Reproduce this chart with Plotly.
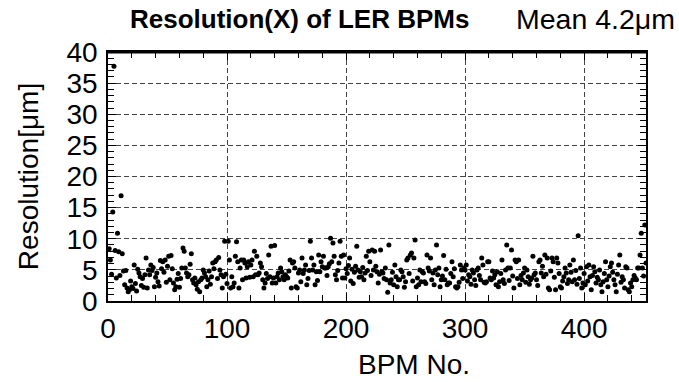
import plotly.graph_objects as go

# Resolution (um) of each LER BPM
res_1_100 = [
    8.4, 6.6, 4.3, 14.3, 37.7, 8.1, 3.7, 10.9, 7.9, 4.1,
    16.9, 7.6, 4.8, 2.6, 4.9, 2.1, 1.5, 1.8, 3.2, 2.3,
    2.0, 5.8, 2.8, 1.6, 5.1, 4.5, 3.9, 2.5, 3.6, 2.2,
    4.2, 6.9, 2.1, 5.0, 4.2, 5.8, 4.9, 5.4, 2.3, 3.8,
    4.5, 3.1, 2.4, 6.5, 5.2, 6.3, 4.6, 6.6, 3.0, 5.6,
    7.2, 3.4, 7.3, 5.2, 2.9, 1.8, 2.3, 3.5, 4.4, 2.2,
    3.6, 5.3, 8.5, 8.0, 5.3, 4.5, 3.9, 4.2, 5.9, 7.6,
    3.4, 2.9, 3.7, 2.6, 1.9, 3.1, 1.5, 3.4, 3.7, 5.0,
    4.5, 3.9, 2.3, 3.4, 4.8, 2.7, 3.9, 6.1, 5.2, 6.3,
    6.6, 3.6, 7.0, 5.0, 4.2, 2.1, 3.9, 9.6, 4.3, 2.8,
]
res_101_200 = [
    9.6, 6.6, 2.1, 3.9, 2.3, 2.9, 7.2, 9.5, 6.3, 2.1,
    5.3, 6.6, 3.4, 6.6, 6.1, 3.7, 5.5, 6.3, 3.8, 5.8,
    6.6, 3.9, 8.0, 4.2, 7.2, 4.2, 4.5, 6.1, 5.5, 3.4,
    2.1, 2.9, 4.4, 3.6, 7.4, 3.9, 8.8, 2.9, 3.7, 8.9,
    2.9, 3.9, 4.5, 3.4, 5.3, 4.7, 3.9, 3.4, 4.2, 3.9,
    3.7, 4.8, 6.6, 2.1, 6.1, 6.3, 5.3, 2.3, 2.1, 4.5,
    5.0, 3.1, 6.9, 4.4, 5.0, 5.8, 2.6, 3.6, 4.9, 9.6,
    6.9, 5.0, 5.8, 2.6, 4.7, 3.3, 7.4, 4.7, 6.3, 5.5,
    7.2, 5.3, 5.3, 4.1, 5.5, 6.0, 10.1, 6.3, 9.3, 7.2,
    4.2, 3.4, 4.9, 6.1, 9.6, 7.2, 3.7, 7.4, 3.7, 5.2,
]
res_201_300 = [
    4.4, 5.7, 6.9, 3.2, 5.1, 2.8, 4.6, 5.6, 8.8, 5.0,
    3.8, 4.7, 3.9, 5.4, 3.4, 4.5, 7.2, 4.9, 8.0, 6.3,
    4.1, 8.2, 5.0, 8.0, 5.6, 4.7, 2.9, 4.3, 8.2, 4.7,
    4.5, 3.6, 5.3, 3.4, 1.4, 9.0, 2.9, 3.4, 4.6, 2.6,
    5.8, 3.9, 2.3, 3.4, 3.4, 5.0, 4.7, 3.9, 2.2, 3.1,
    6.6, 6.9, 4.4, 7.4, 7.7, 3.2, 6.9, 9.8, 2.3, 3.7,
    2.6, 5.0, 3.1, 4.7, 4.5, 3.1, 2.8, 7.4, 5.3, 4.8,
    6.9, 3.4, 4.5, 2.6, 5.0, 9.0, 4.2, 5.3, 2.3, 3.4,
    4.0, 7.3, 3.4, 5.1, 2.6, 2.9, 2.9, 4.4, 6.3, 3.9,
    5.2, 2.3, 2.1, 2.3, 3.0, 5.8, 5.0, 3.6, 5.3, 5.0,
]
res_301_400 = [
    5.8, 3.2, 4.2, 3.9, 2.7, 5.0, 4.5, 3.4, 2.5, 5.0,
    5.3, 4.1, 3.4, 6.9, 5.8, 3.0, 2.9, 3.1, 6.3, 6.3,
    3.7, 3.4, 4.8, 3.7, 4.2, 2.6, 4.7, 2.3, 3.1, 4.4,
    6.6, 3.4, 2.8, 5.0, 9.0, 5.3, 3.3, 5.3, 8.2, 4.0,
    2.1, 6.6, 6.3, 3.6, 6.6, 2.6, 4.1, 3.4, 4.5, 5.3,
    3.0, 5.0, 3.9, 2.7, 3.4, 3.7, 7.2, 4.2, 4.5, 3.4,
    2.5, 6.3, 6.6, 4.5, 5.6, 3.9, 7.4, 4.3, 6.9, 2.1,
    1.8, 4.8, 6.9, 6.3, 3.8, 1.8, 6.9, 6.1, 4.4, 2.3,
    2.1, 3.2, 3.9, 5.3, 4.5, 2.8, 3.4, 5.8, 4.6, 3.1,
    6.6, 3.4, 4.9, 2.7, 10.5, 3.6, 5.3, 2.1, 2.9, 4.4,
]
res_401_452 = [
    2.6, 5.5, 3.2, 5.8, 3.9, 1.8, 4.1, 5.5, 4.7, 2.9,
    3.8, 3.4, 5.0, 2.6, 1.5, 3.1, 4.4, 6.3, 3.4, 2.3,
    4.0, 5.5, 6.1, 4.6, 3.4, 2.6, 1.5, 4.3, 5.8, 7.4,
    3.0, 3.9, 3.4, 2.1, 5.5, 5.3, 1.8, 1.5, 2.9, 2.3,
    3.4, 4.1, 3.7, 3.4, 5.3, 5.3, 7.4, 10.9, 5.3, 4.0,
    12.2, 6.1,
]
resolution = res_1_100 + res_101_200 + res_201_300 + res_301_400 + res_401_452
bpm_no = list(range(1, len(resolution) + 1))

x_ticks = [0, 100, 200, 300, 400]
y_ticks = [0, 5, 10, 15, 20, 25, 30, 35, 40]

FONT = "Liberation Sans, Arial, Helvetica, sans-serif"
W, H = 679, 382
ML, MR, MT, MB = 108, 33, 52, 81
PW = W - ML - MR
PH = H - MT - MB

fig = go.Figure()
fig.add_trace(go.Scatter(
    x=bpm_no, y=resolution, mode="markers",
    marker=dict(color="black", size=5, line=dict(width=0)),
    showlegend=False, cliponaxis=True,
))

axis_common = dict(
    showline=True, linecolor="black", linewidth=1.5, mirror="ticks",
    ticks="inside", tickcolor="black", tickwidth=1.2,
    showgrid=True, gridcolor="#444444", gridwidth=1, griddash="5px,3px",
    zeroline=False, automargin=False,
    tickfont=dict(family=FONT, size=28, color="black"),
)

fig.update_xaxes(
    **axis_common, range=[0, 452], tickvals=x_ticks, ticklen=8,
    minor=dict(dtick=20, tick0=0, ticks="inside", ticklen=6, tickcolor="black",
               tickwidth=1.2, showgrid=False),
    ticklabelstandoff=2,
)
fig.update_yaxes(
    **axis_common, range=[0, 40], tickvals=y_ticks, ticklen=8,
    minor=dict(dtick=1, tick0=0, ticks="inside", ticklen=6, tickcolor="black",
               tickwidth=1.2, showgrid=False),
    title_text="Resolution[μm]", title_standoff=20, ticklabelstandoff=3,
    title_font=dict(family=FONT, size=28, color="black"),
)

# thicker top frame line as in the reference
fig.add_shape(type="line", xref="paper", yref="paper", x0=0, x1=1, y0=1, y1=1,
              line=dict(color="black", width=3))

# x-axis title (placed right of centre, as in the reference)
fig.add_annotation(
    text="BPM No.", xref="paper", yref="paper",
    x=(414 - ML) / PW, y=-(364 - (MT + PH)) / PH,
    xanchor="center", yanchor="middle", showarrow=False,
    font=dict(family=FONT, size=28, color="black"),
)
# regular part of the title
fig.add_annotation(
    text="Mean 4.2μm", xref="paper", yref="paper",
    x=(677 - ML) / PW, y=1 + (MT - 19) / PH,
    xanchor="right", yanchor="middle", showarrow=False,
    font=dict(family=FONT, size=28.5, color="black"),
)

fig.update_layout(
    width=W, height=H,
    paper_bgcolor="white", plot_bgcolor="white",
    margin=dict(l=ML, r=MR, t=MT, b=MB),
    font=dict(family=FONT, color="black"),
    title=dict(
        text="<b>Resolution(X) of LER BPMs</b>",
        x=130 / W, xanchor="left", xref="container",
        y=1 - 19 / H, yanchor="middle", yref="container",
        font=dict(family=FONT, size=26, color="black"),
    ),
)

fig.write_html("out.html")
